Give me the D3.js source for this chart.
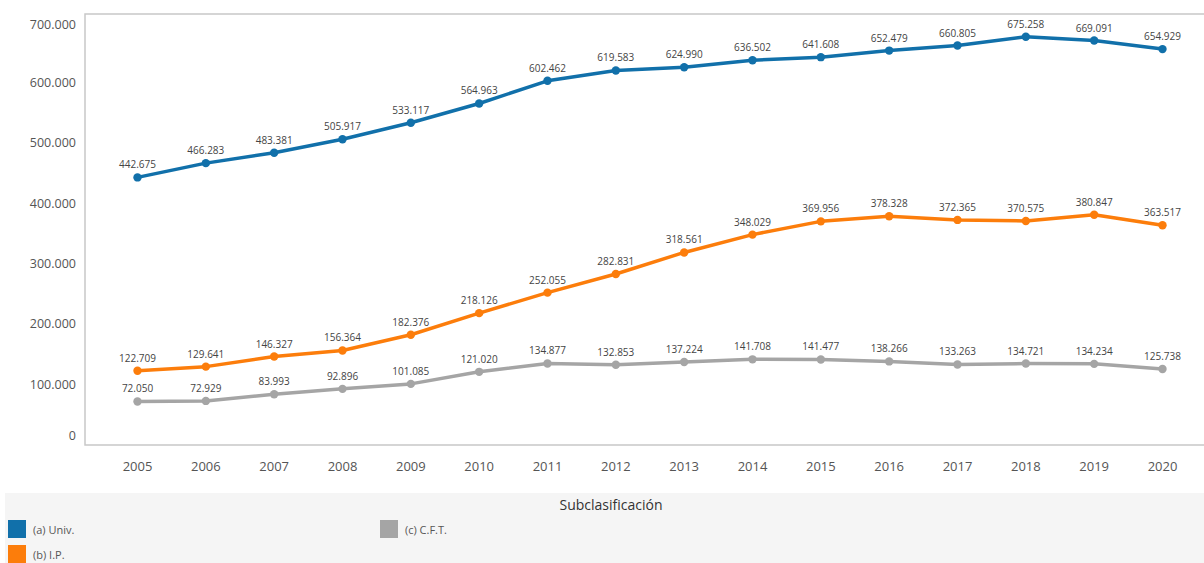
<!DOCTYPE html>
<html>
<head>
<meta charset="utf-8">
<script src="https://cdn.jsdelivr.net/npm/d3@7"></script>
<style>
  body { margin: 0; background: #fff; }
  text { font-family: "Open Sans", sans-serif; }
</style>
</head>
<body>
<div id="chart"></div>
<script>
var width = 1204;
var height = 563;

var years = ["2005", "2006", "2007", "2008", "2009", "2010", "2011", "2012", "2013", "2014", "2015", "2016", "2017", "2018", "2019", "2020"];
var univ = [442675, 466283, 483381, 505917, 533117, 564963, 602462, 619583, 624990, 636502, 641608, 652479, 660805, 675258, 669091, 654929];
var ip = [122709, 129641, 146327, 156364, 182376, 218126, 252055, 282831, 318561, 348029, 369956, 378328, 372365, 370575, 380847, 363517];
var cft = [72050, 72929, 83993, 92896, 101085, 121020, 134877, 132853, 137224, 141708, 141477, 138266, 133263, 134721, 134234, 125738];
var yTicks = [0, 100000, 200000, 300000, 400000, 500000, 600000, 700000];
var seriesNames = ["(a) Univ.", "(b) I.P.", "(c) C.F.T."];
var seriesColors = ["#1170aa", "#fc7d0b", "#a5a5a5"];

var plot = { left: 85, right: 1204, top: 14, bottom: 445 };

var locale = d3.formatLocale({ decimal: ",", thousands: ".", grouping: [3], currency: ["", ""] });
var fmt = locale.format(",d");

var x = d3.scalePoint().domain(years).range([137.5, 1162.5]);
var y = d3.scaleLinear().domain([0, 713000]).range([plot.bottom, plot.top]);

var svg = d3.select("#chart")
  .append("svg")
  .attr("width", width)
  .attr("height", height)
  .attr("viewBox", [0, 0, width, height]);

// frame
svg.append("path")
  .attr("d", "M" + plot.right + "," + plot.top + "H" + plot.left + "V" + plot.bottom + "H" + plot.right)
  .attr("fill", "none")
  .attr("stroke", "#c8c8c8")
  .attr("stroke-width", 1.5);

// y labels (end labels pulled inside the frame)
svg.selectAll("text.ytick")
  .data(yTicks)
  .join("text")
  .attr("class", "ytick")
  .attr("x", 76)
  .attr("y", d => Math.min(Math.max(y(d), plot.top + 11), plot.bottom - 9))
  .attr("dy", "0.35em")
  .attr("text-anchor", "end")
  .attr("font-size", 12.5)
  .attr("fill", "#555")
  .text(d => fmt(d));

// x labels
svg.selectAll("text.xtick")
  .data(years)
  .join("text")
  .attr("class", "xtick")
  .attr("x", d => x(d))
  .attr("y", 466)
  .attr("dy", "0.35em")
  .attr("text-anchor", "middle")
  .attr("font-size", 13)
  .attr("fill", "#555")
  .text(d => d);

var series = [univ, ip, cft];
var line = d3.line().x((d, i) => x(years[i])).y(d => y(d));

series.forEach(function(vals, s) {
  var g = svg.append("g");
  g.append("path")
    .attr("d", line(vals))
    .attr("fill", "none")
    .attr("stroke", seriesColors[s])
    .attr("stroke-width", 3.5)
    .attr("stroke-linejoin", "round");
  g.selectAll("circle")
    .data(vals)
    .join("circle")
    .attr("cx", (d, i) => x(years[i]))
    .attr("cy", d => y(d))
    .attr("r", 4.2)
    .attr("fill", seriesColors[s]);
  g.selectAll("text")
    .data(vals)
    .join("text")
    .attr("x", (d, i) => x(years[i]))
    .attr("y", d => y(d) - 9)
    .attr("text-anchor", "middle")
    .attr("font-size", 10)
    .attr("fill", "#444")
    .text(d => fmt(d));
});

// legend
svg.append("rect")
  .attr("x", 5)
  .attr("y", 493)
  .attr("width", width - 5)
  .attr("height", height - 493)
  .attr("fill", "#f5f5f5");

svg.append("text")
  .attr("x", 611)
  .attr("y", 505)
  .attr("dy", "0.35em")
  .attr("text-anchor", "middle")
  .attr("font-size", 14)
  .attr("fill", "#333")
  .text("Subclasificación");

var legendPos = [[8, 520], [8, 545], [380, 520]];
seriesNames.forEach(function(name, i) {
  svg.append("rect")
    .attr("x", legendPos[i][0])
    .attr("y", legendPos[i][1])
    .attr("width", 18)
    .attr("height", 18)
    .attr("fill", seriesColors[i]);
  svg.append("text")
    .attr("x", legendPos[i][0] + 25)
    .attr("y", legendPos[i][1] + 10)
    .attr("dy", "0.35em")
    .attr("font-size", 11)
    .attr("fill", "#555")
    .text(name);
});
</script>
</body>
</html>
